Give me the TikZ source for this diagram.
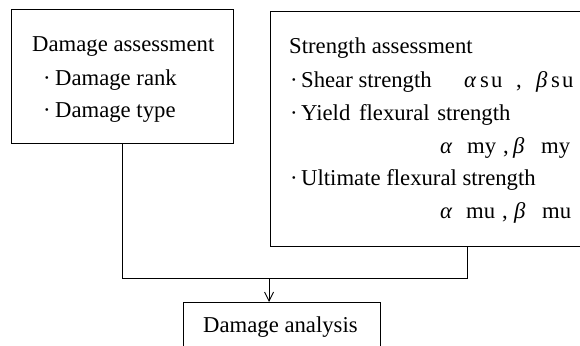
\documentclass[tikz,border=0pt]{standalone}
\usepackage{fontspec}
\setmainfont{Liberation Serif}
\usetikzlibrary{arrows.meta}
\tikzset{
  box/.style={draw=black, line width=0.9pt, inner sep=0pt, anchor=north west},
  txt/.style={anchor=base west, inner sep=0pt, font=\fontsize{22.7}{27}\selectfont},
  conn/.style={draw=black, line width=0.9pt},
}
\newcommand{\bul}[1]{\makebox[#1pt][l]{·}}
\newcommand{\gk}[1]{\textit{#1}}
\begin{document}
\begin{tikzpicture}[x=1pt,y=1pt]
\useasboundingbox (0,0) rectangle (580,-345);
\clip (0,0) rectangle (580,-345);
% boxes
\node[box, minimum width=222pt, minimum height=134pt] (dmg) at (11,-9) {};
\node[box, minimum width=330pt, minimum height=235pt] (str) at (270,-11) {};
\node[box, minimum width=197pt, minimum height=70pt] (ana) at (183,-302) {};
% left box text
\node[txt] (d1) at (32,-52) {Damage assessment};
\node[txt] (d2) at (43,-85) {\bul{12}Damage rank};
\node[txt] (d3) at (43,-117) {\bul{12}Damage type};
% right box text
\node[txt] (s1) at (289,-53) {Strength assessment};
\node[txt] (s2) at (290,-87) {\bul{11}Shear strength};
\node[txt] (s2a) at (464,-87) {\gk{α}};
\node[txt] (s2b) at (480,-87) {s\kern2pt u};
\node[txt] (s2c) at (516,-87) {,};
\node[txt] (s2d) at (536,-87) {\gk{β}};
\node[txt] (s2e) at (551,-87) {s\kern2pt u};
\node[txt] (s3) at (290,-120) {\bul{11}Yield\kern3pt{} flexural\kern2pt{} strength};
\node[txt] (s4a) at (440,-153) {\gk{α}};
\node[txt] (s4b) at (467,-153) {my};
\node[txt] (s4c) at (503,-153) {,};
\node[txt] (s4d) at (513,-153) {\gk{β}};
\node[txt] (s4e) at (541,-153) {my};
\node[txt] (s5) at (290,-185) {\bul{11}Ultimate flexural strength};
\node[txt] (s6a) at (440,-218) {\gk{α}};
\node[txt] (s6b) at (466,-218) {mu};
\node[txt] (s6c) at (502,-218) {,};
\node[txt] (s6d) at (514,-218) {\gk{β}};
\node[txt] (s6e) at (542,-218) {mu};
% bottom box text
\node[txt] (a1) at (203,-332) {Damage analysis};
% connectors
\coordinate (j) at (467,-278);
\coordinate (m) at (269,-278);
\draw[conn] (dmg.south) |- (j) -- (j |- str.south);
\draw[conn, -{Straight Barb[length=9pt,width=9pt,line width=0.9pt]}] (m) -- (m |- ana.north);
\end{tikzpicture}
\end{document}
